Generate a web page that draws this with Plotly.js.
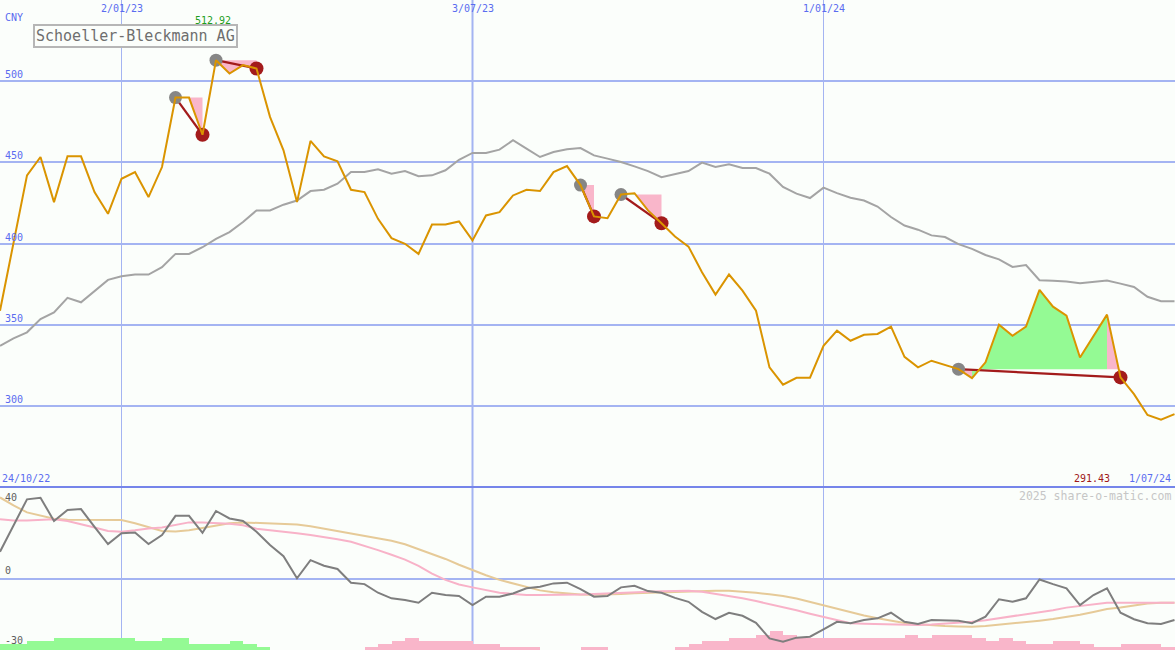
<!DOCTYPE html>
<html>
<head>
<meta charset="utf-8">
<script src="https://cdn.plot.ly/plotly-3.0.1.min.js"></script>
<style>
  html, body { margin: 0; padding: 0; background: #FBFEFB; }
  #chart { width: 1175px; height: 650px; }
</style>
</head>
<body>
<div id="chart"></div>
<script>
// ---------------- DATA (weekly, Mondays, first week = 31/10/22) ----------------
const firstWeek = '2022-10-31';
const startLabel = '24/10/22';
const endLabel = '1/07/24';
const currency = 'CNY';
const stockName = 'Schoeller-Bleckmann AG';
const watermark = '2025 share-o-matic.com';

const price = [
  358.6, 400.0, 442.0, 453.3, 425.5, 453.7, 453.7, 431.7, 418.3, 439.9,
  444.0, 428.6, 447.1, 489.9, 489.9, 467.0, 512.92, 504.7, 509.9, 507.8,
  478.0, 457.4, 425.5, 463.2, 453.7, 450.6, 433.1, 431.7, 415.2, 403.3,
  399.8, 393.6, 411.7, 411.7, 413.6, 401.9, 417.3, 419.3, 429.6, 433.1,
  432.3, 444.0, 447.7, 436.0, 416.7, 415.6, 430.2, 431.0, 420.4, 412.5,
  404.3, 398.1, 382.3, 368.5, 380.9, 371.0, 358.6, 323.7, 313.0, 317.3,
  317.3, 337.0, 346.3, 340.1, 343.8, 344.3, 348.8, 330.2, 323.7, 327.8,
  325.3, 322.6, 317.1, 326.8, 350.0, 343.2, 348.8, 371.4, 361.1, 355.6,
  329.8, 343.2, 356.2, 317.5, 307.2, 294.4, 291.43, 294.9
];

const movingAvg = [
  337.0, 341.6, 345.3, 353.5, 357.6, 366.5, 363.8, 370.6, 377.6, 379.8,
  380.9, 380.9, 385.4, 393.6, 393.6, 397.7, 402.9, 407.0, 413.2, 420.4,
  420.4, 423.9, 426.5, 432.3, 433.1, 436.8, 444.0, 444.0, 445.7, 443.0,
  444.6, 441.4, 442.0, 445.1, 451.6, 455.8, 455.8, 457.8, 463.6, 458.4,
  453.3, 456.4, 458.0, 458.8, 454.3, 452.3, 450.2, 447.5, 444.6, 440.9,
  442.6, 444.6, 449.8, 447.1, 448.8, 446.5, 446.5, 443.0, 434.8, 430.7,
  428.0, 434.4, 431.0, 428.2, 426.5, 422.8, 416.3, 411.1, 408.5, 405.0,
  404.0, 399.6, 396.7, 392.9, 390.2, 385.6, 386.7, 377.4, 377.0, 376.6,
  375.5, 376.3, 377.2, 375.3, 373.2, 367.2, 364.4, 364.4
];

// lower panel
const oscillator = [
  11.6, 23.0, 34.1, 34.8, 24.8, 29.5, 29.9, 22.3, 14.9, 19.5,
  19.9, 14.9, 18.8, 27.0, 27.0, 19.7, 29.1, 25.9, 24.8, 20.2,
  14.5, 9.7, 0.2, 8.0, 5.6, 4.2, -1.7, -2.3, -6.0, -8.4,
  -9.1, -10.3, -6.0, -7.0, -7.4, -11.3, -7.7, -7.7, -6.3, -4.1,
  -3.4, -2.0, -1.7, -4.5, -7.7, -7.4, -3.7, -3.0, -5.3, -6.0,
  -8.2, -9.9, -14.2, -17.3, -14.6, -15.9, -18.9, -25.6, -27.0, -25.3,
  -24.9, -21.7, -18.5, -19.1, -17.7, -17.0, -14.6, -18.5, -19.4, -17.7,
  -18.0, -18.0, -19.1, -16.3, -8.8, -9.9, -8.4, -0.3, -2.3, -4.1,
  -11.3, -7.0, -4.1, -14.6, -17.4, -19.1, -19.4, -17.7
];

const signalFast = [
  25.6, 25.0, 25.0, 25.3, 25.5, 24.8, 23.5, 22.0, 20.5, 20.2,
  20.8, 21.6, 22.0, 23.0, 24.2, 24.2, 24.0, 23.6, 23.0, 21.5,
  20.8, 20.0, 19.5, 18.8, 18.0, 17.0, 15.9, 14.2, 12.3, 10.3,
  8.2, 5.5, 2.2, -0.5, -2.5, -3.7, -5.0, -6.0, -6.5, -7.0,
  -7.0, -7.0, -7.0, -6.8, -6.6, -6.3, -6.0, -5.8, -5.6, -5.4,
  -5.3, -5.2, -5.6, -6.5, -7.5, -8.4, -9.6, -10.8, -12.0, -13.5,
  -15.0, -16.3, -17.8, -19.1, -19.3, -19.5, -19.7, -19.8, -19.9, -19.7,
  -19.4, -19.0, -18.5, -17.8, -17.0, -16.2, -15.2, -14.5, -13.5, -12.4,
  -11.8, -11.0, -10.3, -10.3, -10.3, -10.3, -10.3, -10.3
];

const signalSlow = [
  34.9, 31.5, 28.5, 27.0, 25.8, 25.3, 25.2, 25.2, 25.2, 25.2,
  23.8, 22.0, 20.5, 20.3, 20.8, 21.8, 22.8, 23.8, 24.2, 24.0,
  23.8, 23.5, 23.3, 22.5, 21.5, 20.5, 19.5, 18.5, 17.5, 16.3,
  14.8, 12.8, 10.8, 8.5, 6.0, 3.7, 1.5, -0.5, -2.0, -3.8,
  -5.0, -5.8, -6.3, -6.8, -6.9, -6.8, -6.5, -6.2, -6.0, -5.8,
  -5.5, -5.3, -5.2, -5.2, -5.2, -5.5, -6.0, -6.7, -7.4, -8.5,
  -10.0, -11.3, -12.8, -14.3, -15.8, -17.0, -18.0, -19.0, -19.5, -20.0,
  -20.3, -20.5, -20.6, -20.3, -19.8, -19.2, -18.6, -18.0, -17.3, -16.5,
  -15.5, -14.3, -13.0, -12.3, -11.5, -10.6, -10.3, -10.3
];

// histogram: positive = green, negative = pink
const histogram = [
  2.6, 2.6, 3.9, 3.9, 5.0, 5.0, 5.0, 5.0, 5.0, 5.0,
  3.9, 3.9, 5.0, 5.0, 2.6, 2.6, 2.6, 3.9, 2.6, 1.4,
  0, 0, 0, 0, 0, 0, 0, -1.4, -2.6, -3.9,
  -5.0, -3.9, -3.9, -3.9, -3.9, -2.6, -2.6, -1.4, -1.4, -1.4,
  0, 0, 0, -1.4, -1.4, 0, 0, 0, 0, 0,
  -1.4, -2.6, -3.9, -3.9, -5.0, -5.0, -6.4, -8.2, -6.4, -5.0,
  -5.0, -5.0, -5.0, -5.0, -5.0, -5.0, -5.0, -6.4, -5.0, -6.4,
  -6.4, -6.4, -5.0, -3.9, -5.0, -3.9, -2.6, -2.6, -3.9, -3.9,
  -2.6, -1.4, -1.4, -2.6, -2.6, -2.6, -1.4, -1.4
];

// detected patterns (week indices)
const patternStart = [13, 16, 43, 46, 71];
const patternEnd   = [15, 19, 44, 49, 83];

// axis ticks / labels
const gridDates  = ['2023-01-02', '2023-07-03', '2024-01-01'];
const gridLabels = ['2/01/23', '3/07/23', '1/01/24'];
const priceTicks = [300, 350, 400, 450, 500];
const oscTicks   = [40, 0, -30];

// ---------------- STYLE ----------------
const BG = '#FBFEFB';
const GRID = '#A4B4F2';
const SEP = '#7585EA';
const BLUE_TXT = '#5A6CF0';
const ORANGE = '#DA9400';
const GRAYMA = '#A4A4A4';
const GREEN_FILL = '#94FA94';
const PINK_FILL = '#F9B6CA';
const DARKRED = '#A31B1B';
const FONT = 'DejaVu Sans Mono, monospace';

const W = 1175, H = 650;
const pxPerWeek = 13.5;
const lowerFrac = 163 / 650;           // lower panel height fraction
const Y_MAIN = [250, 550];
const Y_OSC = [-30.6, 39.4];

// ---------------- helpers ----------------
const DAY = 86400000, WEEK = 7 * DAY;
const t0 = Date.parse(firstWeek + 'T00:00:00Z');
function iso(ms) { return new Date(ms).toISOString().slice(0, 19).replace('T', ' '); }
const dates = price.map((_, i) => iso(t0 + i * WEEK));
const xRange = [iso(t0), iso(t0 + (W / pxPerWeek) * WEEK)];

// pattern fills
const gX = [], gY = [], pX = [], pY = [];
const lineX = [], lineY = [];
const startX = [], startY = [], endX = [], endY = [];
patternStart.forEach((s, k) => {
  const e = patternEnd[k];
  const L = price[s];
  for (let i = s; i < e; i++) {
    const xs = [dates[i], dates[i], dates[i + 1], dates[i + 1], dates[i]];
    const ys = [L, price[i], price[i + 1], L, L];
    if (price[i + 1] >= L) { gX.push(...xs, null); gY.push(...ys, null); }
    else { pX.push(...xs, null); pY.push(...ys, null); }
  }
  lineX.push(dates[s], dates[e], null);
  lineY.push(price[s], price[e], null);
  startX.push(dates[s]); startY.push(price[s]);
  endX.push(dates[e]); endY.push(price[e]);
});

// extremes
let iMax = 0, iMin = 0;
price.forEach((v, i) => { if (v > price[iMax]) iMax = i; if (v < price[iMin]) iMin = i; });

const traces = [
  { x: gX, y: gY, type: 'scatter', mode: 'lines', fill: 'toself', fillcolor: GREEN_FILL,
    line: { width: 0, color: GREEN_FILL }, hoverinfo: 'skip', xaxis: 'x', yaxis: 'y' },
  { x: pX, y: pY, type: 'scatter', mode: 'lines', fill: 'toself', fillcolor: PINK_FILL,
    line: { width: 0, color: PINK_FILL }, hoverinfo: 'skip', xaxis: 'x', yaxis: 'y' },
  { x: dates, y: movingAvg, type: 'scatter', mode: 'lines',
    line: { color: GRAYMA, width: 2 }, xaxis: 'x', yaxis: 'y' },
  { x: lineX, y: lineY, type: 'scatter', mode: 'lines',
    line: { color: DARKRED, width: 2.2 }, xaxis: 'x', yaxis: 'y' },
  { x: startX, y: startY, type: 'scatter', mode: 'markers',
    marker: { color: '#868686', size: 13 }, xaxis: 'x', yaxis: 'y' },
  { x: endX, y: endY, type: 'scatter', mode: 'markers',
    marker: { color: DARKRED, size: 14 }, xaxis: 'x', yaxis: 'y' },
  { x: dates, y: price, type: 'scatter', mode: 'lines',
    line: { color: ORANGE, width: 2 }, xaxis: 'x', yaxis: 'y' },
  // lower panel
  { x: dates, y: histogram.map(Math.abs), base: Y_OSC[0], type: 'bar',
    width: WEEK, offset: 0,
    marker: { color: histogram.map(v => v >= 0 ? GREEN_FILL : PINK_FILL), line: { width: 0 } },
    xaxis: 'x', yaxis: 'y2' },
  { x: dates, y: signalSlow, type: 'scatter', mode: 'lines',
    line: { color: '#E6CA98', width: 2 }, xaxis: 'x', yaxis: 'y2' },
  { x: dates, y: signalFast, type: 'scatter', mode: 'lines',
    line: { color: '#F8B2C8', width: 2 }, xaxis: 'x', yaxis: 'y2' },
  { x: dates, y: oscillator, type: 'scatter', mode: 'lines',
    line: { color: '#7E7E7E', width: 2 }, xaxis: 'x', yaxis: 'y2' }
];

// ---------------- annotations & shapes ----------------
const ann = [];
const txt = (o) => Object.assign({ showarrow: false, font: { family: FONT, size: 10, color: BLUE_TXT } }, o);

gridDates.forEach((d, k) => ann.push(txt({
  text: gridLabels[k], x: d, xref: 'x', y: 1 - 8 / H, yref: 'paper', xanchor: 'center', yanchor: 'middle'
})));
priceTicks.forEach(v => ann.push(txt({
  text: String(v), x: 0, xref: 'paper', xshift: 3, y: v, yref: 'y', xanchor: 'left', yanchor: 'bottom', yshift: -1
})));
// lower-panel tick labels (placed inside the panel, clamped to its edges)
oscTicks.forEach(v => {
  const frac = Math.min(Math.max((v - Y_OSC[0]) / (Y_OSC[1] - Y_OSC[0]), 0), 1) * lowerFrac;
  ann.push(txt({
    text: String(v), x: 0, xref: 'paper', xshift: 3, y: frac, yref: 'paper', xanchor: 'left',
    yanchor: frac >= lowerFrac ? 'top' : 'bottom', yshift: frac >= lowerFrac ? -3 : 1,
    font: { family: FONT, size: 10, color: '#5E5E5E' }
  }));
});
ann.push(txt({ text: currency, x: 0, xref: 'paper', xshift: 3, y: 1 - 18 / H, yref: 'paper', xanchor: 'left', yanchor: 'middle' }));
ann.push(txt({ text: price[iMax].toFixed(2), x: dates[iMax], xref: 'x', xshift: -3, y: 1 - 20 / H, yref: 'paper',
  xanchor: 'center', yanchor: 'middle', font: { family: FONT, size: 10, color: '#1E9E1E' } }));
ann.push(txt({ text: stockName, x: 135.5 / W, xref: 'paper', y: 1 - 36 / H, yref: 'paper',
  xanchor: 'center', yanchor: 'middle', font: { family: FONT, size: 15, color: '#6E6E6E' },
  bordercolor: '#B6B6B6', borderwidth: 2, borderpad: 1, bgcolor: BG }));
ann.push(txt({ text: startLabel, x: 0, xref: 'paper', y: lowerFrac, yref: 'paper', xanchor: 'left', yanchor: 'bottom', yshift: 1 }));
ann.push(txt({ text: endLabel, x: 1, xref: 'paper', xshift: -2, y: lowerFrac, yref: 'paper', xanchor: 'right', yanchor: 'bottom', yshift: 1 }));
ann.push(txt({ text: price[iMin].toFixed(2), x: 1092 / W, xref: 'paper', y: lowerFrac, yref: 'paper',
  xanchor: 'center', yanchor: 'bottom', yshift: 1, font: { family: FONT, size: 10, color: '#A01818' } }));
ann.push(txt({ text: watermark, x: 1, xref: 'paper', xshift: -2, y: 1 - 496 / H, yref: 'paper',
  xanchor: 'right', yanchor: 'middle', font: { family: FONT, size: 11.5, color: '#C6C6C6' } }));

const gridWidths = [1, 2, 1];
const shapes = gridDates.map((d, k) => ({
  type: 'line', layer: 'below', xref: 'x', yref: 'paper', x0: d, x1: d, y0: 0, y1: 1,
  line: { color: GRID, width: gridWidths[k] }
}));
shapes.push({ type: 'line', layer: 'above', xref: 'paper', yref: 'paper', x0: 0, x1: 1, y0: lowerFrac, y1: lowerFrac,
  line: { color: SEP, width: 2 } });

const layout = {
  width: W, height: H,
  margin: { l: 0, r: 0, t: 0, b: 0, pad: 0 },
  paper_bgcolor: BG, plot_bgcolor: BG,
  showlegend: false,
  hovermode: false,
  xaxis: { type: 'date', range: xRange, showgrid: false, zeroline: false, showline: false,
    showticklabels: false, ticks: '', anchor: 'y2', fixedrange: true },
  yaxis: { domain: [lowerFrac, 1], range: Y_MAIN, tickvals: priceTicks, showgrid: true,
    gridcolor: GRID, gridwidth: 2, zeroline: false, showline: false, showticklabels: false,
    ticks: '', anchor: 'x', fixedrange: true },
  yaxis2: { domain: [0, lowerFrac], range: Y_OSC, tickvals: [0], showgrid: true,
    gridcolor: GRID, gridwidth: 2, zeroline: false, showline: false, showticklabels: false,
    ticks: '', anchor: 'x', fixedrange: true },
  annotations: ann,
  shapes: shapes,
  bargap: 0
};

Plotly.newPlot('chart', traces, layout, { displayModeBar: false, staticPlot: true });
</script>
</body>
</html>
